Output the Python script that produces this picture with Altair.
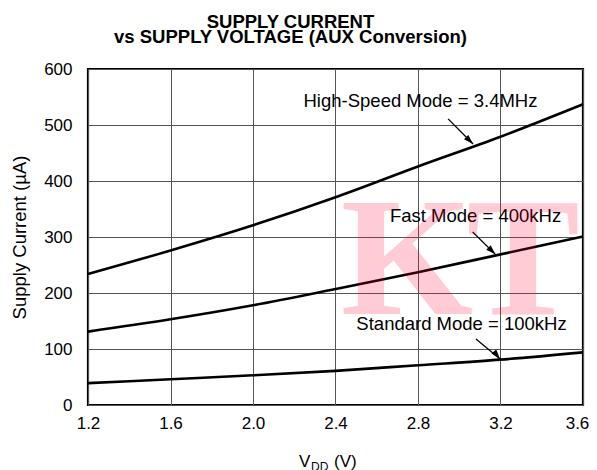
import altair as alt
import pandas as pd

# ---- data ----
V = [1.2, 1.6, 2.0, 2.4, 2.8, 3.2, 3.6]
HS = [234, 276, 321, 371, 426, 479, 537]
FAST = [131, 153, 178, 207, 237, 269, 301]
STD = [39, 46, 53, 61, 71, 81, 94]

SERIES = ["High-Speed Mode = 3.4MHz", "Fast Mode = 400kHz", "Standard Mode = 100kHz"]
LABEL_V = [2.812, 3.079, 3.011]
LABEL_I = [542, 337, 144]
ARROW_V0 = [2.946, 3.065, 3.081]
ARROW_I0 = [511, 309, 118]
ARROW_V1 = [3.067, 3.175, 3.198]
ARROW_I1 = [466, 269, 82]
ARROW_ANGLE = [135, 135, 140]

X_TICKS = [1.2, 1.6, 2.0, 2.4, 2.8, 3.2, 3.6]
Y_TICKS = [0, 100, 200, 300, 400, 500, 600]

TITLE = ["SUPPLY CURRENT", "vs SUPPLY VOLTAGE (AUX Conversion)"]
Y_TITLE = "Supply Current (µA)"
WM_TEXT = ["K", "T", "T"]
WM_V = [2.425, 3.035, 3.63]
WM_I = [163, 163, 163]

FONT = "Liberation Sans"

rows = []
for name, vals in zip(SERIES, [HS, FAST, STD]):
    for v, i in zip(V, vals):
        rows.append({"V": v, "I": i, "series": name})
curves = pd.DataFrame(rows)

labels = pd.DataFrame({"V": LABEL_V, "I": LABEL_I, "text": SERIES})
arrows = pd.DataFrame({"V": ARROW_V0, "I": ARROW_I0, "V2": ARROW_V1, "I2": ARROW_I1,
                       "angle": ARROW_ANGLE})
wm = pd.DataFrame({"V": WM_V, "I": WM_I, "text": WM_TEXT})

xscale = alt.Scale(domain=[1.2, 3.6], nice=False, zero=False)
yscale = alt.Scale(domain=[0, 600], nice=False)

xaxis = alt.Axis(values=X_TICKS, format=".1f", title=None, ticks=False,
                 labelPadding=10, labelFontSize=17, labelFont=FONT,
                 labelColor="black", grid=True, gridColor="#555555",
                 gridWidth=1, domain=False, labelFlush=False,
                 labelOffset={"condition": {"test": "datum.value > 3.5", "value": -6},
                              "value": 0})
yaxis = alt.Axis(values=Y_TICKS, title=Y_TITLE, ticks=False, labelPadding=16,
                 labelFontSize=17, labelFont=FONT, labelColor="black",
                 grid=True, gridColor="#555555", gridWidth=1, domain=False,
                 titleFont=FONT, titleFontSize=18.5, titleFontWeight="normal",
                 titleColor="black", titleX=-63, titleY=168, titleAngle=270,
                 titleAlign="center", titleBaseline="alphabetic",
                 labelFlush=False)


def X(field):
    return alt.X(field, scale=xscale, axis=xaxis, title=None)


def Y(field):
    return alt.Y(field, scale=yscale, axis=yaxis, title=Y_TITLE)


lines = alt.Chart(curves).mark_line(color="black", strokeWidth=2.6, interpolate="monotone").encode(
    x=X("V:Q"),
    y=Y("I:Q"),
    detail="series:N",
)

texts = alt.Chart(labels).mark_text(font=FONT, fontSize=18.5, color="black",
                                    align="center", baseline="middle").encode(
    x=X("V:Q"),
    y=Y("I:Q"),
    text="text:N",
)

rules = alt.Chart(arrows).mark_rule(color="black", strokeWidth=1.3).encode(
    x=X("V:Q"),
    y=Y("I:Q"),
    x2="V2:Q",
    y2="I2:Q",
)

heads = alt.Chart(arrows).mark_point(shape="M0,0 L-0.32,1 L0.32,1 Z", filled=True,
                                     color="black", opacity=1, size=380).encode(
    x=X("V2:Q"),
    y=Y("I2:Q"),
    angle=alt.Angle("angle:Q", scale=None),
)

watermark = alt.Chart(wm).mark_text(font="Liberation Serif", fontWeight="bold", fontSize=170,
                                    color="#ff0033", opacity=0.2, align="left",
                                    baseline="alphabetic", clip=True).encode(
    x=X("V:Q"),
    y=Y("I:Q"),
    text="text:N",
)

xt_v = alt.Chart(pd.DataFrame({"t": ["V"]})).mark_text(
    font=FONT, fontSize=17, color="black", align="left", baseline="alphabetic").encode(
    x=alt.value(211), y=alt.value(398), text="t:N")
xt_dd = alt.Chart(pd.DataFrame({"t": ["DD"]})).mark_text(
    font=FONT, fontSize=12, color="black", align="left", baseline="alphabetic").encode(
    x=alt.value(223), y=alt.value(402), text="t:N")
xt_u = alt.Chart(pd.DataFrame({"t": ["(V)"]})).mark_text(
    font=FONT, fontSize=17, color="black", align="left", baseline="alphabetic").encode(
    x=alt.value(246), y=alt.value(398), text="t:N")

chart = alt.layer(lines, rules, heads, texts, watermark, xt_v, xt_dd, xt_u).properties(
    width=495,
    height=336,
    title=alt.TitleParams(text=TITLE, font=FONT, fontSize=18.5, fontWeight="bold",
                          lineHeight=15, anchor="middle", dx=-45, offset=14, color="black"),
    autosize=alt.AutoSizeParams(type="none"),
    padding={"left": 80, "top": 61, "right": 6, "bottom": 65},
).configure(background="white").configure_view(stroke="black", strokeWidth=2.2)

chart.save("out.html", embed_options={"renderer": "svg", "actions": False})
